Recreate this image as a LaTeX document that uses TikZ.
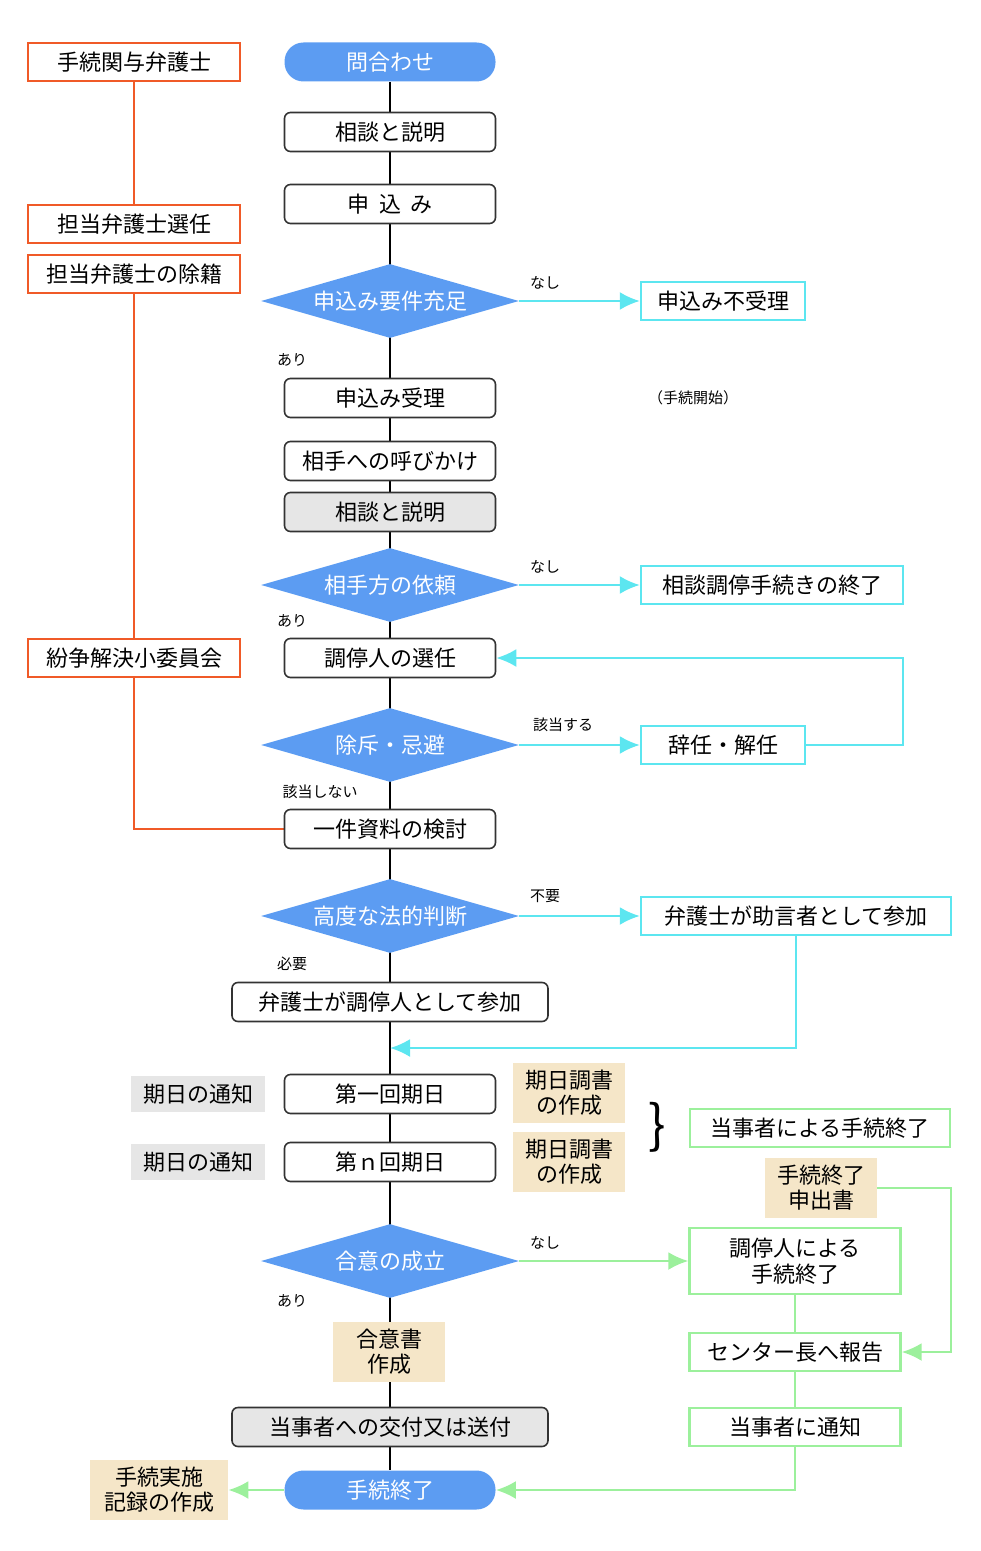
\documentclass[tikz,border=0pt]{standalone}
\usepackage{fontspec}
\setmainfont{Noto Sans CJK JP}
\usetikzlibrary{positioning, arrows.meta, shapes.geometric, backgrounds}
\definecolor{colour_start}{HTML}{5C9CF2}
\definecolor{colour_side}{HTML}{F05A28}
\definecolor{colour_cyan}{HTML}{5CE6F0}
\definecolor{colour_green}{HTML}{9CF09C}
\definecolor{colour_doc}{HTML}{F5E6C8}
\definecolor{colour_grey}{HTML}{E6E6E6}

\begin{document}
\begin{tikzpicture}[
    x=0.5pt, y=-0.5pt,
    font=\fontsize{11}{13}\selectfont,
    box/.style={rectangle, draw=black!80, thick, rounded corners=3pt, fill=white,
                minimum height=19.5pt, minimum width=105.5pt, inner sep=0pt, align=center},
    pill/.style={rectangle, rounded corners=9.5pt, fill=colour_start, text=white,
                 minimum height=19.5pt, minimum width=105.5pt, inner sep=0pt},
    decide/.style={diamond, aspect=3.5, fill=colour_start, text=white, inner sep=0pt,
                   minimum width=129pt, minimum height=37pt},
    side/.style={rectangle, draw=colour_side, line width=1.2pt, fill=white,
                 minimum height=19pt, minimum width=106pt, inner sep=0pt},
    cyanbox/.style={rectangle, draw=colour_cyan, line width=1.2pt, fill=white,
                    minimum height=19pt, inner sep=4pt, align=center},
    greenbox/.style={rectangle, draw=colour_green, line width=1.2pt, fill=white,
                     minimum height=19pt, minimum width=105.5pt, inner sep=0pt, align=center},
    doc/.style={rectangle, fill=colour_doc, inner sep=3pt, align=center,
                minimum width=56pt, minimum height=30pt, font=\fontsize{11}{12.5}\selectfont},
    notice/.style={rectangle, fill=colour_grey, minimum width=67pt, minimum height=18pt, inner sep=0pt},
    lbl/.style={font=\fontsize{7.5}{9}\selectfont},
    cyanarrow/.style={-{Latex[length=10pt,width=9pt]}, colour_cyan, line width=1.2pt},
    greenarrow/.style={-{Latex[length=10pt,width=9pt]}, colour_green, line width=1.2pt},
    sideline/.style={colour_side, line width=1.2pt}
]
\useasboundingbox (0,0) rectangle (980,1551);

% Main column
\node[pill] (enquiry) at (390,62) {問合わせ};
\node[box] (consult) at (390,132) {相談と説明};
\node[box] (apply) at (390,204) {申\ \ 込\ \ み};
\node[decide] (reqs) at (390,301) {申込み要件充足};
\node[box] (accept) at (390,398) {申込み受理};
\node[box] (callout) at (390,461) {相手への呼びかけ};
\node[box, fill=colour_grey] (consult2) at (390,512) {相談と説明};
\node[decide] (request) at (390,585) {相手方の依頼};
\node[box] (appoint) at (390,658) {調停人の選任};
\node[decide] (exclude) at (390,745) {除斥・忌避};
\node[box] (review) at (390,829) {一件資料の検討};
\node[decide] (legal) at (390,916) {高度な法的判断};
\node[box, minimum width=158pt] (lawmed) at (390,1002) {弁護士が調停人として参加};
\node[box] (first) at (390,1094) {第一回期日};
\node[box] (nth) at (390,1162) {第ｎ回期日};
\node[decide] (agree) at (390,1261) {合意の成立};
\node[doc] (agreedoc) at (389,1352) {合意書\\作成};
\node[box, fill=colour_grey, minimum width=158pt] (deliver) at (390,1427) {当事者への交付又は送付};
\node[pill] (finish) at (390,1490) {手続終了};

% Branch labels
\node[lbl] at (545,283) {なし};
\node[lbl] at (292,360) {あり};
\node[lbl] at (693,398) {（手続開始）};
\node[lbl] at (545,567) {なし};
\node[lbl] at (292,621) {あり};
\node[lbl] at (563,725) {該当する};
\node[lbl] at (320,792) {該当しない};
\node[lbl] at (545,896) {不要};
\node[lbl] at (292,964) {必要};
\node[lbl] at (545,1243) {なし};
\node[lbl] at (292,1301) {あり};

% Right branches
\node[cyanbox, minimum width=82pt] (reject) at (723,301) {申込み不受理};
\node[cyanbox, minimum width=131pt] (endconsult) at (772,585) {相談調停手続きの終了};
\node[cyanbox, minimum width=82pt] (resign) at (723,745) {辞任・解任};
\node[cyanbox, minimum width=155pt] (advisor) at (796,916) {弁護士が助言者として参加};
\node[doc] (record1) at (569,1093) {期日調書\\の作成};
\node[doc] (record2) at (569,1162) {期日調書\\の作成};
\node[notice] (notice1) at (198,1094) {期日の通知};
\node[notice] (notice2) at (198,1162) {期日の通知};
\node[font=\fontsize{26}{26}\selectfont] (brace) at (657,1127) {\}};
\node[greenbox, minimum width=130pt] (partyend) at (820,1128) {当事者による手続終了};
\node[doc] (withdraw) at (821,1188) {手続終了\\申出書};
\node[greenbox, minimum height=33pt] (medend) at (795,1261) {調停人による\\手続終了};
\node[greenbox] (report) at (795,1352) {センター長へ報告};
\node[greenbox] (notify) at (795,1427) {当事者に通知};
\node[doc, minimum width=69pt] (log) at (159,1490) {手続実施\\記録の作成};

% Left column
\node[side] (lawyers) at (134,62) {手続関与弁護士};
\node[side] (select) at (134,224) {担当弁護士選任};
\node[side] (remove) at (134,274) {担当弁護士の除籍};
\node[side] (committee) at (134,658) {紛争解決小委員会};

\coordinate (loopA) at (903,745);
\coordinate (loopB) at (903,658);
\coordinate (advA) at (796,1048);
\coordinate (advB) at (390,1048);
\coordinate (wdA) at (951,1188);
\coordinate (wdB) at (951,1352);
\coordinate (ntA) at (795,1490);
\coordinate (cmA) at (134,829);

\begin{scope}[on background layer]
\draw[line width=1.4pt] (enquiry) -- (finish);
\draw[sideline] (lawyers) -- (select);
\draw[sideline] (remove) -- (committee);
\draw[sideline] (committee) -- (cmA) -- (review.west);
\draw[colour_green, line width=1.2pt] (medend) -- (notify);
\end{scope}

% Connectors
\draw[cyanarrow] (reqs.east) -- (reject.west);
\draw[cyanarrow] (request.east) -- (endconsult.west);
\draw[cyanarrow] (exclude.east) -- (resign.west);
\draw[cyanarrow] (resign.east) -- (loopA) -- (loopB) -- (appoint.east);
\draw[cyanarrow] (legal.east) -- (advisor.west);
\draw[cyanarrow] (advisor.south) -- (advA) -- (advB);
\draw[greenarrow] (agree.east) -- (medend.west);
\draw[greenarrow] (withdraw.east) -- (wdA) -- (wdB) -- (report.east);
\draw[greenarrow] (notify.south) -- (ntA) -- (finish.east);
\draw[greenarrow] (finish.west) -- (log.east);
\end{tikzpicture}
\end{document}
